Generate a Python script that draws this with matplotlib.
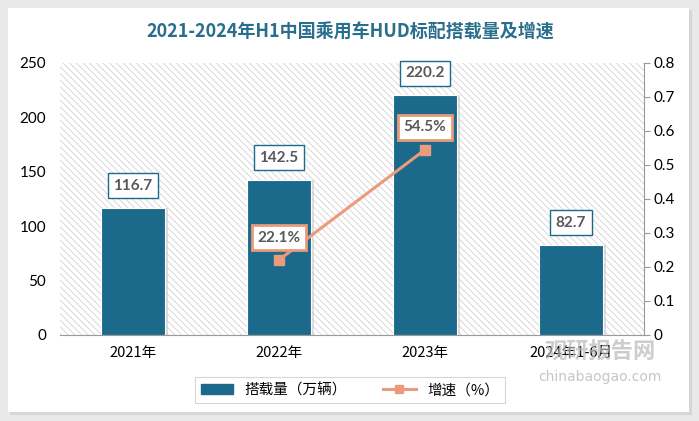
import matplotlib
matplotlib.use("Agg")
import matplotlib.pyplot as plt
from matplotlib.patches import Rectangle
from matplotlib.lines import Line2D
from matplotlib.patches import Patch

plt.rcParams['font.family'] = ['Noto Sans CJK SC', 'DejaVu Sans']
plt.rcParams['hatch.linewidth'] = 0.6

categories = ['2021年', '2022年', '2023年', '2024年1-6月']
volume = [116.7, 142.5, 220.2, 82.7]
growth_idx = [1, 2]
growth = [0.221, 0.545]
growth_labels = ['22.1%', '54.5%']
vol_labels = ['116.7', '142.5', '220.2', '82.7']

BAR = '#1b6a8c'
LINE = '#e99b7b'

fig = plt.figure(figsize=(6.99, 4.21), dpi=100)
fig.patch.set_facecolor('#e9e9e9')
# white panel with shadow
fig.add_artist(Rectangle((10/699, 1-415/421), 682/699, 405/421, transform=fig.transFigure,
                         facecolor='#d6d6d6', edgecolor='none', zorder=0))
fig.add_artist(Rectangle((8/699, 1-412/421), 681/699, 404/421, transform=fig.transFigure,
                         facecolor='white', edgecolor='none', zorder=0))

ax = fig.add_axes([60/699, 1-335/421, 584/699, 272/421])
ax.set_facecolor('none')
ax.add_patch(Rectangle((0, 0), 1, 1, transform=ax.transAxes, facecolor='white',
                       edgecolor='#d2d2d2', hatch='\\\\\\\\\\', linewidth=0, zorder=0))

x = list(range(len(categories)))
# shadows
ax.bar([i + 0.02 for i in x], volume, width=0.44, color='#c8c8c8', zorder=1, alpha=0.6)
ax.bar(x, volume, width=0.44, color=BAR, edgecolor='white', linewidth=0.8, zorder=2)
ax.set_xlim(-0.5, 3.5)
ax.set_ylim(0, 250)
ax.set_yticks([0, 50, 100, 150, 200, 250])
ax.set_xticks(x)
ax.set_xticklabels(categories, fontsize=10.5)
for s in ['top', 'right', 'left']:
    ax.spines[s].set_visible(False)
ax.spines['bottom'].set_color('#999999')
ax.tick_params(axis='x', length=0, pad=8)
ax.tick_params(axis='y', length=0, pad=10, labelsize=11)
for t in ax.get_yticklabels():
    t.set_family('Lato')

for i, v in enumerate(volume):
    ax.annotate(vol_labels[i], (i, v), xytext=(0, 16), textcoords='offset points',
                ha='center', va='center', fontsize=11, fontweight='bold', color='#595959',
                family='Lato', zorder=6,
                bbox=dict(boxstyle='square,pad=0.35', facecolor='white', edgecolor=BAR, linewidth=1))

ax2 = ax.twinx()
ax2.set_ylim(0, 0.8)
ax2.set_yticks([0, 0.1, 0.2, 0.3, 0.4, 0.5, 0.6, 0.7, 0.8])
ax2.set_yticklabels(['0', '0.1', '0.2', '0.3', '0.4', '0.5', '0.6', '0.7', '0.8'])
for s in ['top', 'left', 'bottom']:
    ax2.spines[s].set_visible(False)
ax2.spines['right'].set_color('#999999')
ax2.tick_params(axis='y', length=4, color='#999999', labelsize=11, pad=3)
for t in ax2.get_yticklabels():
    t.set_family('Lato')
ax2.plot(growth_idx, growth, color=LINE, linewidth=2.2, marker='s', markersize=7, zorder=5)
for i, g, lab in zip(growth_idx, growth, growth_labels):
    ax2.annotate(lab, (i, g), xytext=(0, 16), textcoords='offset points',
                 ha='center', va='center', fontsize=11, fontweight='bold', color='#595959',
                 family='Lato', zorder=6,
                 bbox=dict(boxstyle='square,pad=0.35', facecolor='white', edgecolor=LINE, linewidth=2))

fig.text(350/699, 1-32/421, '2021-2024年H1中国乘用车HUD标配搭载量及增速', ha='center', va='center',
         fontsize=13, fontweight='bold', color='#2a6e8e')

# watermark
fig.text(600/699, 1-352/421, '观研报告网', ha='center', va='center', fontsize=16,
         fontweight='bold', color='#b8b8b8', alpha=0.7)
fig.text(600/699, 1-377/421, 'chinabaogao.com', ha='center', va='center', fontsize=10,
         color='#b8b8b8', alpha=0.8, family='DejaVu Sans')

handles = [Patch(facecolor=BAR, edgecolor=BAR),
           Line2D([0], [0], color=LINE, linewidth=2.2, marker='s', markersize=6)]
leg = fig.legend(handles, ['搭载量（万辆）', '增速（%）'], loc='center', bbox_to_anchor=(350/699, 1-390/421),
                 ncol=2, frameon=True, fancybox=False, fontsize=10.5, handlelength=2.2,
                 columnspacing=2.5, borderpad=0.4)
leg.get_frame().set_edgecolor('#cccccc')
leg.get_frame().set_linewidth(0.8)

fig.savefig('out.png', dpi=100)
